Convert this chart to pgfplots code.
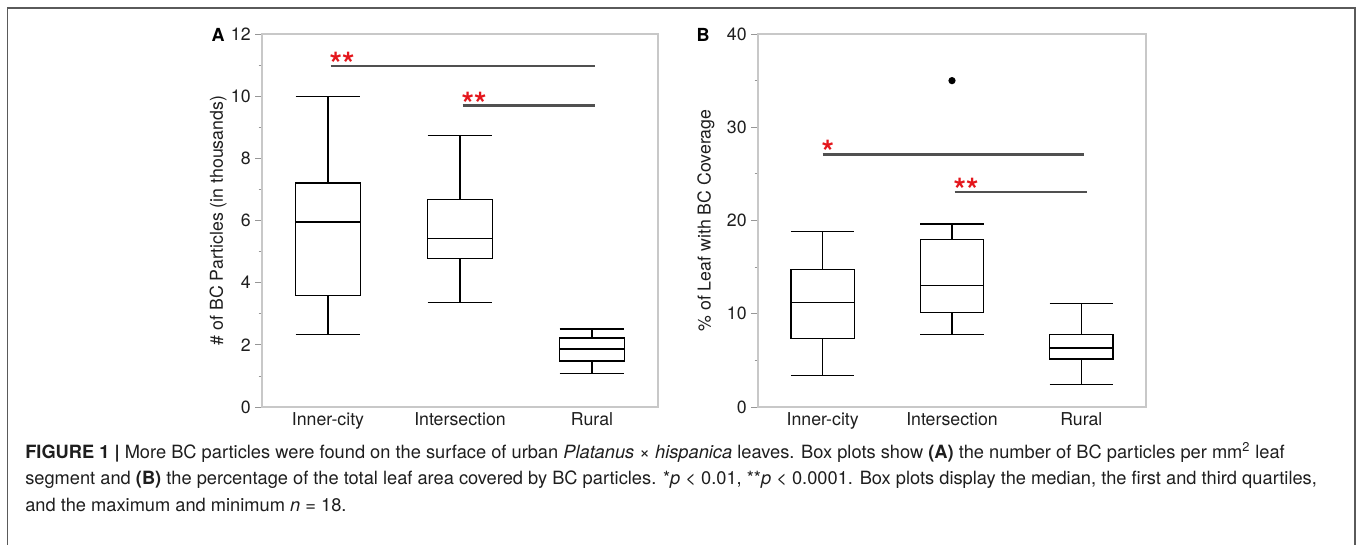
\documentclass[border=0pt]{standalone}
\usepackage{pgfplots}
\pgfplotsset{compat=1.18}
\usepgfplotslibrary{statistics}
\usepackage{fontspec}
\setmainfont{TeX Gyre Heros}
\definecolor{sigred}{RGB}{228,22,28}
\definecolor{barg}{RGB}{80,80,80}
\definecolor{frameg}{RGB}{200,200,200}
\definecolor{tickg}{RGB}{150,150,150}
\definecolor{txt}{RGB}{30,30,30}
\definecolor{outer}{RGB}{90,90,90}

\tikzset{st/.style={sigred, font=\fontsize{24}{24}\bfseries, anchor=base west, inner sep=0pt, yshift=-7pt}}

\pgfplotsset{
 mybox/.style={
  scale only axis, height=279.75pt,
  xmin=0.5, xmax=3.5, xtick={1,2,3},
  xticklabels={Inner-city,Intersection,Rural},
  major x tick style={draw=none},
  xticklabel style={yshift=4pt},
  axis line style={draw=frameg, line width=0.8pt},
  tick align=outside, ytick pos=left, xtick pos=bottom,
  major tick length=5pt, minor tick length=2.5pt,
  every tick/.style={tickg, line width=0.6pt},
  minor y tick num=1,
  tick label style={font=\fontsize{13.3}{16}\selectfont, text=txt},
  label style={font=\fontsize{13.3}{16}\selectfont, text=txt},
  /pgf/number format/assume math mode=true,
  boxplot/draw direction=y,
  boxplot/box extend=0.49, boxplot/whisker extend=0.49,
  clip=false,
 },
 bx/.style={black, line width=0.95pt, solid, mark=*, mark size=2.2pt, mark options={fill=black, draw=black}},
 sig/.style={barg, line width=2pt, no marks},
}

\begin{document}
\begin{tikzpicture}
\path[use as bounding box] (0pt,0pt) rectangle (1017.75pt,-408pt);
\draw[outer, line width=1.4pt] (5.6pt,-410pt) -- (5.6pt,-6pt) -- (1016.25pt,-6pt) -- (1016.25pt,-410pt);

% Panel A
\begin{axis}[mybox, at={(196.5pt,-305.25pt)}, anchor=south west, width=297pt,
  ymin=0, ymax=12, ytick={0,2,4,6,8,10,12},
  ylabel={\# of BC Particles (in thousands)},
  ylabel style={at={(axis description cs:-0.111,0.5)}, anchor=center}]
\addplot[bx, boxplot prepared={median=5.95, upper quartile=7.21, lower quartile=3.59, upper whisker=10.0, lower whisker=2.34, draw position=1}] coordinates {};
\addplot[bx, boxplot prepared={median=5.41, upper quartile=6.67, lower quartile=4.77, upper whisker=8.74, lower whisker=3.37, draw position=2}] coordinates {};
\addplot[bx, boxplot prepared={median=1.87, upper quartile=2.22, lower quartile=1.48, upper whisker=2.51, lower whisker=1.08, draw position=3}] coordinates {};
\addplot[sig] coordinates {(1.02,10.97) (3.02,10.97)};
\addplot[sig] coordinates {(2.02,9.69) (3.02,9.69)};
\node[st] at (axis cs:1.01,10.97) {**};
\node[st] at (axis cs:2.01,9.69) {**};
\end{axis}

% Panel B
\begin{axis}[mybox, at={(568.5pt,-305.25pt)}, anchor=south west, width=291pt,
  ymin=0, ymax=40, ytick={0,10,20,30,40},
  ylabel={\% of Leaf with BC Coverage},
  ylabel style={at={(axis description cs:-0.134,0.5)}, anchor=center}]
\addplot[bx, boxplot prepared={median=11.24, upper quartile=14.75, lower quartile=7.34, upper whisker=18.8, lower whisker=3.37, draw position=1}] coordinates {};
\addplot[bx, boxplot prepared={median=13.03, upper quartile=17.94, lower quartile=10.17, upper whisker=19.62, lower whisker=7.81, draw position=2}] coordinates {(0,35)};
\addplot[bx, boxplot prepared={median=6.34, upper quartile=7.77, lower quartile=5.16, upper whisker=11.13, lower whisker=2.43, draw position=3}] coordinates {};
\addplot[sig] coordinates {(1.0,27.07) (3.02,27.07)};
\addplot[sig] coordinates {(2.02,23.06) (3.04,23.06)};
\node[st] at (axis cs:0.99,27.07) {*};
\node[st] at (axis cs:2.01,23.06) {**};
\end{axis}

\node[font=\fontsize{13.5}{16}\bfseries, text=black] at (163.5pt,-26pt) {A};
\node[font=\fontsize{13.5}{16}\bfseries, text=black] at (527.25pt,-26pt) {B};

\begin{scope}[every node/.style={anchor=base west, inner sep=0pt, text=txt, font=\fontsize{13.7}{16}\selectfont}]
\node at (18.75pt,-343.5pt) {\textbf{FIGURE 1 |} More BC particles were found on the surface of urban \textit{Platanus} × \textit{hispanica} leaves. Box plots show \textbf{(A)} the number of BC particles per mm\textsuperscript{2} leaf};
\node at (18.75pt,-363.4pt) {segment and \textbf{(B)} the percentage of the total leaf area covered by BC particles. *\textit{p} < 0.01, **\textit{p} < 0.0001. Box plots display the median, the first and third quartiles,};
\node at (18.75pt,-383.3pt) {and the maximum and minimum \textit{n} = 18.};
\end{scope}
\end{tikzpicture}
\end{document}
